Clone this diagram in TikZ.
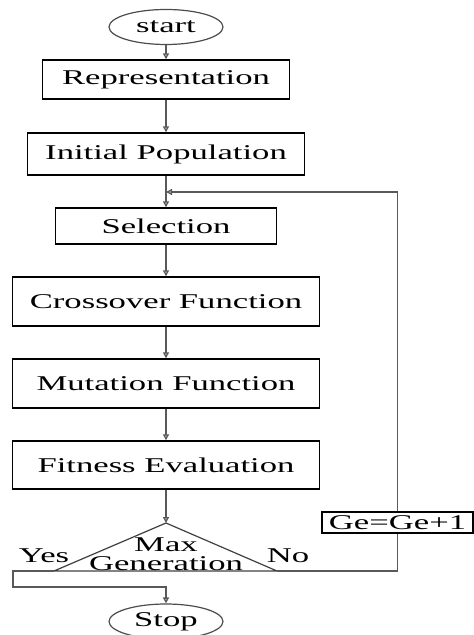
\documentclass[tikz,border=0pt]{standalone}
\usepackage{fontspec}
\setmainfont{Liberation Serif}
\usepackage{graphicx}
\usetikzlibrary{arrows.meta,shapes.geometric,calc}
\newcommand{\wide}[1]{\scalebox{1.65}[1]{#1}}

\begin{document}
\begin{tikzpicture}[x=0.5pt,y=-0.5pt,
  box/.style={rectangle, draw=black, line width=0.7pt, inner sep=0pt, font=\fontsize{10.5}{12}\selectfont},
  term/.style={ellipse, draw=black!70, line width=0.6pt, inner sep=0pt, minimum width=57pt, minimum height=17.5pt, font=\fontsize{10.5}{12}\selectfont},
  flow/.style={draw=black!65, line width=0.7pt},
  arr/.style={flow, -{Triangle[open,length=3pt,width=3pt]}},
  lbl/.style={inner sep=0pt, font=\fontsize{10.5}{12}\selectfont}]
  \useasboundingbox (0,0) rectangle (473,635);

  \node (start) [term] at (166,27) {\wide{start}};
  \node (rep) [box, minimum width=123.5pt, minimum height=19.5pt] at (166,79.5) {\wide{Representation}};
  \node (init) [box, minimum width=138.5pt, minimum height=21pt] at (166,154) {\wide{Initial Population}};
  \node (sel) [box, minimum width=110.5pt, minimum height=18pt] at (166,226) {\wide{Selection}};
  \node (cross) [box, minimum width=153.5pt, minimum height=24.5pt] at (166,301.5) {\wide{Crossover Function}};
  \node (mut) [box, minimum width=153.5pt, minimum height=24.5pt] at (166,383.5) {\wide{Mutation Function}};
  \node (fit) [box, minimum width=153.5pt, minimum height=24pt] at (166,465) {\wide{Fitness Evaluation}};
  \node (ge) [box, minimum width=75.5pt, minimum height=10.5pt] at (397.5,522.5) {\wide{Ge=Ge+1}};
  \node (stop) [term] at (166,621.5) {\wide{Stop}};

  % decision triangle
  \coordinate (dt) at (166,523);
  \coordinate (dl) at (54,571);
  \coordinate (dr) at (277,571);
  \draw [black!75, line width=0.6pt] (dt) -- (dl) -- (dr) -- cycle;
  \node (max) [lbl] at (166,545) {\wide{Max}};
  \node (gen) [lbl] at (166,564) {\wide{Generation}};
  \node (yes) [lbl] at (44,556) {\wide{Yes}};
  \node (no) [lbl] at (288,556) {\wide{No}};

  \coordinate (jn) at (166,192);
  \coordinate (yl) at (13,571);
  \coordinate (yb) at (13,587);
  \coordinate (ym) at (166,587);

  \draw [arr] (start) -- (rep);
  \draw [arr] (rep) -- (init);
  \draw [arr] (init) -- (sel);
  \draw [arr] (sel) -- (cross);
  \draw [arr] (cross) -- (mut);
  \draw [arr] (mut) -- (fit);
  \draw [arr] (fit) -- (dt);
  \draw [flow] (dr) -- (dr -| ge.south) -- (ge.south);
  \draw [arr] (ge.north) -- (ge.north |- jn) -- (jn);
  \draw [arr] (dl) -- (yl) -- (yb) -- (ym) -- (stop.north);
\end{tikzpicture}
\end{document}
